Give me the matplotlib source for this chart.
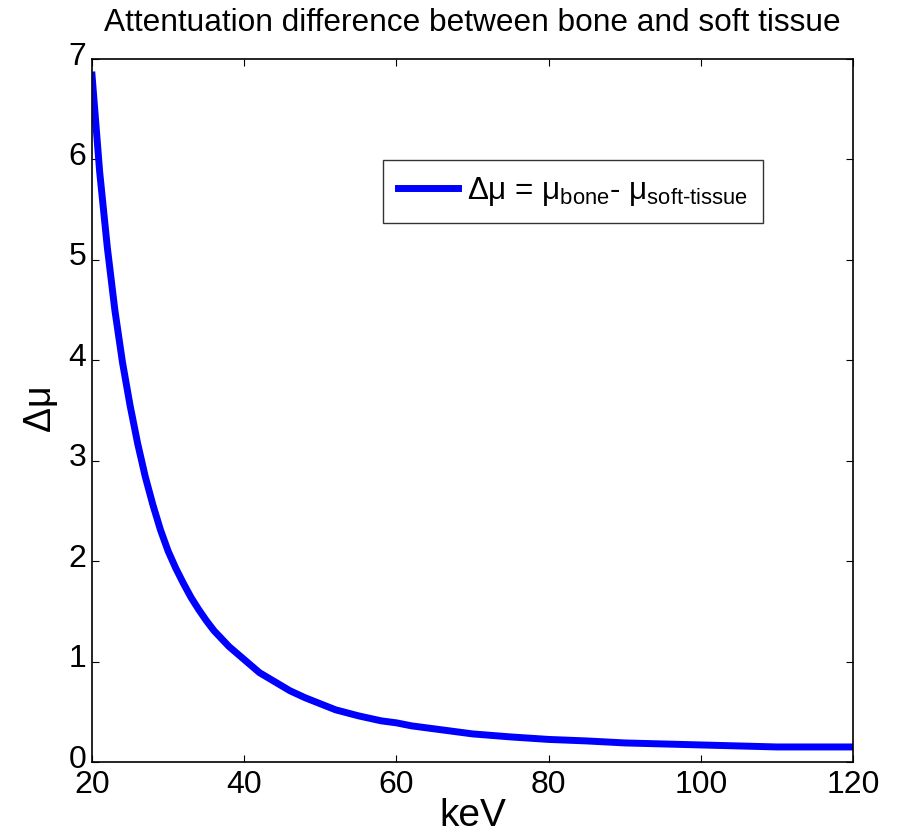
import matplotlib
matplotlib.use("Agg")
import matplotlib.pyplot as plt
import matplotlib.transforms as mtransforms

# Energy (keV) and attenuation difference between bone and soft tissue
kev = [20, 21, 22, 23, 24, 25, 26, 27, 28, 29, 30, 31, 32, 33, 34, 35, 36,
       38, 40, 42, 44, 46, 48, 50, 52, 55, 58, 60, 62, 65, 68, 70, 75, 80,
       85, 90, 95, 100, 110, 120]
delta_mu = [6.84, 5.88, 5.13, 4.50, 3.98, 3.55, 3.17, 2.84, 2.56, 2.31,
            2.10, 1.93, 1.78, 1.64, 1.52, 1.41, 1.31, 1.15, 1.02, 0.89,
            0.80, 0.71, 0.64, 0.58, 0.52, 0.46, 0.41, 0.39, 0.36, 0.33,
            0.30, 0.28, 0.25, 0.225, 0.21, 0.19, 0.18, 0.17, 0.15, 0.15]

x_ticks = [20, 40, 60, 80, 100, 120]
y_ticks = [0, 1, 2, 3, 4, 5, 6, 7]

plt.rcParams["font.family"] = ["Liberation Sans", "DejaVu Sans"]
plt.rcParams["mathtext.fontset"] = "custom"
plt.rcParams["mathtext.rm"] = "Liberation Sans"
plt.rcParams["mathtext.it"] = "Liberation Sans"

fig = plt.figure(figsize=(8.97, 8.35), dpi=100)
ax = fig.add_axes([0.1026, 0.0874, 0.8484, 0.8419])

ax.plot(kev, delta_mu, color="#0000ff", lw=5, solid_joinstyle="round",
        label=r"$\Delta\mu$ = $\mu_{\rm bone}$- $\mu_{\rm soft\text{-}tissue}$")

ax.set_xlim(20, 120)
ax.set_ylim(0, 7)
ax.set_xticks(x_ticks)
ax.set_yticks(y_ticks)
ax.tick_params(direction="in", length=5, width=0.8, top=True, right=True,
               labelsize=23)
ax.tick_params(axis="x", pad=6)
ax.tick_params(axis="y", pad=4)
# nudge the y tick labels slightly upward
shift = mtransforms.ScaledTranslation(0, 6 / 100, fig.dpi_scale_trans)
for lbl in ax.get_yticklabels():
    lbl.set_transform(lbl.get_transform() + shift)
for s in ax.spines.values():
    s.set_linewidth(1.2)

ax.set_title("Attentuation difference between bone and soft tissue",
             fontsize=22.8, pad=20)
ax.set_xlabel("keV", fontsize=28, labelpad=-2)
ax.set_ylabel(r"$\Delta\mu$", fontsize=27, labelpad=6)

leg = ax.legend(loc="upper right", bbox_to_anchor=(0.882, 0.856),
                fontsize=22.6, frameon=True, fancybox=False, handlelength=1.9,
                handletextpad=0.3, borderpad=0.48, borderaxespad=0)
leg.get_frame().set_edgecolor("black")
leg.get_frame().set_linewidth(1.0)

fig.savefig("out.png", dpi=100)
